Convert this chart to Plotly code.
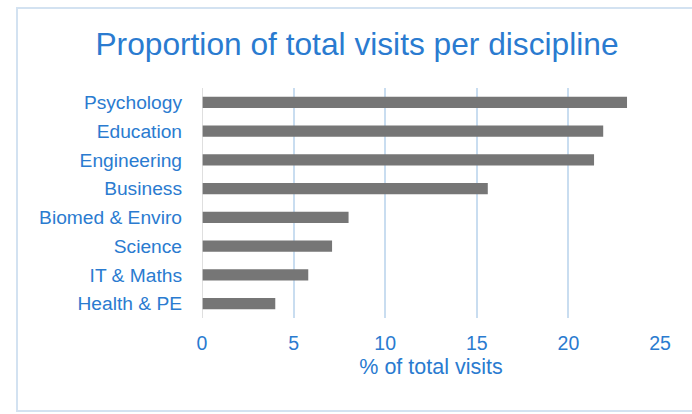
import plotly.graph_objects as go

# Share of total visits per discipline (%)
disciplines = ["Psychology", "Education", "Engineering", "Business",
               "Biomed & Enviro", "Science", "IT & Maths", "Health & PE"]
share_pct = [23.2, 21.9, 21.4, 15.6, 8.0, 7.1, 5.8, 4.0]
x_ticks = [0, 5, 10, 15, 20, 25]

BLUE = "#2A7BD0"
W, H = 692, 414
L, R, T, B = 202, 32, 88, 96
pw, ph = W - L - R, H - T - B


def px_x(p):
    return (p - L) / pw


def px_y(p):
    return (H - B - p) / ph


fig = go.Figure(
    go.Bar(
        x=share_pct,
        y=disciplines,
        orientation="h",
        marker=dict(color="#767676", line=dict(width=0)),
        width=0.39,
    )
)

fig.update_layout(
    width=W,
    height=H,
    margin=dict(l=L, r=R, t=T, b=B),
    paper_bgcolor="white",
    plot_bgcolor="white",
    showlegend=False,
    font=dict(family="Liberation Sans, Arial, sans-serif", color=BLUE),
    title=dict(
        text="Proportion of total visits per discipline",
        font=dict(size=31.7, color=BLUE),
        x=357 / W,
        xanchor="center",
        y=1 - 44 / H,
        yanchor="middle",
    ),
    xaxis=dict(
        range=[0, 25],
        tickvals=x_ticks,
        ticktext=[str(v) for v in x_ticks],
        tickfont=dict(size=19.5, color=BLUE),
        showgrid=True,
        gridcolor="#C9DDF0",
        gridwidth=1.5,
        zeroline=False,
        showline=False,
        ticks="",
        ticklabelstandoff=11,
        title=dict(text="% of total visits", font=dict(size=21.5, color=BLUE), standoff=6),
        fixedrange=True,
    ),
    yaxis=dict(
        categoryorder="array",
        categoryarray=disciplines[::-1],
        tickfont=dict(size=19.2, color=BLUE),
        showgrid=False,
        zeroline=False,
        showline=False,
        ticks="",
        ticklabelstandoff=19,
        fixedrange=True,
    ),
    shapes=[
        # value axis baseline at zero
        dict(type="line", xref="x", yref="paper", x0=0, x1=0, y0=0, y1=1,
             line=dict(color="#D4D4D4", width=1.5), layer="above"),
        # chart border
        dict(type="rect", xref="paper", yref="paper",
             x0=px_x(17), x1=px_x(700), y0=px_y(411), y1=px_y(8),
             line=dict(color="#D3E2F1", width=2), layer="below"),
    ],
)

fig.write_html("out.html")
